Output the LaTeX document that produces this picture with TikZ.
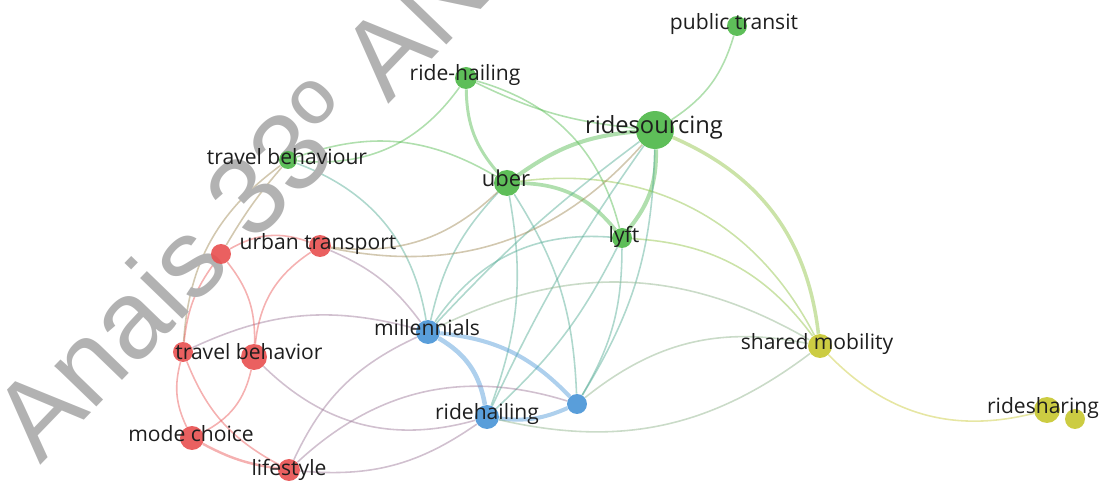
\documentclass[tikz,border=0pt]{standalone}
\usepackage{fontspec}
\setmainfont{Open Sans}
\newfontfamily\wmfont{Liberation Sans}
\usetikzlibrary{positioning}

\definecolor{grn}{RGB}{80,185,75}
\definecolor{rd}{RGB}{232,82,82}
\definecolor{blu}{RGB}{75,150,215}
\definecolor{ylw}{RGB}{200,200,50}
\definecolor{ink}{RGB}{30,30,30}

\pgfdeclarelayer{edges}
\pgfdeclarelayer{stamp}
\pgfsetlayers{edges,stamp,main}

\tikzset{
  kw/.style={circle, inner sep=0pt, fill=#1, fill opacity=0.92, draw=none},
  rad/.style={minimum size=#1*0.04cm},
  lbl/.style={anchor=mid, inner sep=0pt, text=ink, font=\fontsize{12}{12}\selectfont},
  lnk/.style={draw=#1, draw opacity=0.45, line width=0.9pt},
  thk/.style={line width=#1pt},
}

\begin{document}
\begin{tikzpicture}[x=0.02cm, y=-0.02cm]
\clip (0,0) rectangle (1100,482);

% keywords
\node[kw=grn, rad=10] (pt)  at (737,26)  {};
\node[kw=grn, rad=11] (rh1) at (466,78)  {};
\node[kw=grn, rad=19] (rs)  at (655,130) {};
\node[kw=grn, rad=9]  (tb1) at (288,160) {};
\node[kw=grn, rad=13] (ub)  at (507,183) {};
\node[kw=grn, rad=10] (ly)  at (622,238) {};
\node[kw=rd,  rad=11] (ut)  at (320,246) {};
\node[kw=rd,  rad=10] (ra)  at (221,254) {};
\node[kw=blu, rad=12] (mi)  at (428,332) {};
\node[kw=rd,  rad=13] (tb2) at (254,357) {};
\node[kw=rd,  rad=10] (rb)  at (183,352) {};
\node[kw=rd,  rad=12] (mc)  at (192,438) {};
\node[kw=rd,  rad=11] (ls)  at (289,470) {};
\node[kw=blu, rad=12] (rh2) at (487,417) {};
\node[kw=blu, rad=10] (bl)  at (577,404) {};
\node[kw=ylw, rad=12] (sm)  at (820,346) {};
\node[kw=ylw, rad=13] (rsh) at (1047,410) {};
\node[kw=ylw, rad=10] (ya)  at (1075,419) {};

% labels
\node[lbl] (t-pt)  at (734,25)  {public transit};
\node[lbl] (t-rh1) at (465,76)  {ride-hailing};
\node[lbl, font=\fontsize{13.5}{13.5}\selectfont] (t-rs) at (654,129) {ridesourcing};
\node[lbl] (t-tb1) at (287,160) {travel behaviour};
\node[lbl, font=\fontsize{12.5}{12.5}\selectfont] (t-ub) at (506,182) {uber};
\node[lbl] (t-ly)  at (624,238) {lyft};
\node[lbl] (t-ut)  at (318,245) {urban transport};
\node[lbl] (t-mi)  at (427,331) {millennials};
\node[lbl] (t-tb2) at (249,355) {travel behavior};
\node[lbl] (t-mc)  at (191,437) {mode choice};
\node[lbl] (t-ls)  at (289,471) {lifestyle};
\node[lbl] (t-rh2) at (487,415) {ridehailing};
\node[lbl] (t-sm)  at (817,345) {shared mobility};
\node[lbl] (t-rsh) at (1043,409) {ridesharing};

% links
\begin{pgfonlayer}{edges}
\draw[lnk=grn] (pt) to[bend left=20] (rs);
\draw[lnk=grn, thk=1.7] (rh1) to[bend right=20] (ub);
\draw[lnk=grn] (rh1) to[bend right=10] (rs);
\draw[lnk=grn] (rh1) to[bend left=30] (ly);
\draw[lnk=grn] (tb1) to[bend right=30] (rh1);
\draw[lnk=grn] (tb1) to[bend left=25] (ub);
\draw[lnk=grn!50!blu] (tb1) to[bend left=30] (mi);
\draw[lnk=grn!50!rd] (tb1) to[bend right=5] (ra);
\draw[lnk=grn!50!rd] (tb1) to[bend right=25] (rb);
\draw[lnk=grn, thk=2.3] (ub) to[bend left=15] (rs);
\draw[lnk=grn, thk=2.1] (ub) to[bend left=25] (ly);
\draw[lnk=grn, thk=2.3] (rs) to[bend left=20] (ly);
\draw[lnk=grn!50!ylw, thk=2] (rs) to[bend left=30] (sm);
\draw[lnk=grn!50!blu] (ub) to[bend right=15] (mi);
\draw[lnk=grn!50!blu] (ub) to[bend left=15] (rh2);
\draw[lnk=grn!50!blu] (ub) to[bend left=15] (bl);
\draw[lnk=grn!50!ylw] (ub) to[bend left=35] (sm);
\draw[lnk=grn!50!ylw] (ly) to[bend left=25] (sm);
\draw[lnk=grn!50!blu] (rs) to[bend right=5] (mi);
\draw[lnk=grn!50!blu] (rs) to[bend right=5] (rh2);
\draw[lnk=grn!50!blu] (rs) to[bend left=15] (bl);
\draw[lnk=grn!50!blu] (ly) to[bend right=30] (mi);
\draw[lnk=grn!50!blu] (ly) to[bend left=10] (rh2);
\draw[lnk=grn!50!blu] (ly) to[bend left=15] (bl);
\draw[lnk=rd!50!grn] (ut) to[bend right=25] (ub);
\draw[lnk=rd!50!grn] (ut) to[bend right=30] (rs);
\draw[lnk=blu, thk=2.6] (mi) to[bend left=25] (rh2);
\draw[lnk=blu, thk=2.3] (mi) to[bend left=20] (bl);
\draw[lnk=blu, thk=2.3] (rh2) to[bend right=15] (bl);
\draw[lnk=blu!50!ylw] (mi) to[bend left=28] (sm);
\draw[lnk=blu!50!ylw] (bl) to[bend left=25] (sm);
\draw[lnk=blu!50!ylw] (rh2) to[bend right=25] (sm);
\draw[lnk=rd!50!blu] (rb) to[bend left=20] (mi);
\draw[lnk=rd!50!blu] (ut) to[bend left=15] (mi);
\draw[lnk=rd!50!blu] (ls) to[bend left=20] (mi);
\draw[lnk=rd!50!blu] (tb2) to[bend right=30] (rh2);
\draw[lnk=rd!50!blu] (ls) to[bend right=20] (rh2);
\draw[lnk=rd!50!blu] (ls) to[bend left=30] (bl);
\draw[lnk=rd] (ra) to[bend left=25] (ut);
\draw[lnk=rd] (ra) to[bend left=20] (tb2);
\draw[lnk=rd] (ra) to[bend right=15] (rb);
\draw[lnk=rd] (ut) to[bend right=25] (tb2);
\draw[lnk=rd] (rb) to[bend right=20] (mc);
\draw[lnk=rd] (rb) to[bend right=20] (ls);
\draw[lnk=rd] (tb2) to[bend left=25] (mc);
\draw[lnk=rd, thk=1.4] (mc) to[bend right=10] (ls);
\draw[lnk=ylw] (sm) to[bend right=30] (rsh);
\end{pgfonlayer}

% watermark
\begin{pgfonlayer}{stamp}
\node[rotate=46, anchor=base west, inner sep=0pt, text=black!30,
  font=\wmfont\fontsize{63}{63}\selectfont] (wm) at (40,466) {Anais 33º ANPET};
\end{pgfonlayer}
\end{tikzpicture}
\end{document}
